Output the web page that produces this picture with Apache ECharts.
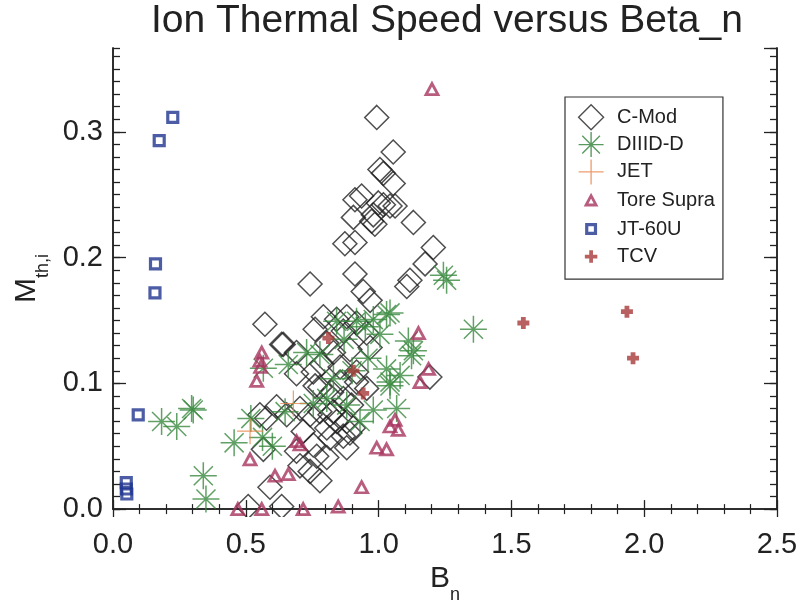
<!DOCTYPE html>
<html>
<head>
<meta charset="utf-8">
<script src="https://cdn.jsdelivr.net/npm/echarts@6/dist/echarts.min.js"></script>
<style>
html,body{margin:0;padding:0;background:#fff}
#chart{width:802px;height:609px}
</style>
</head>
<body>
<div id="chart"></div>
<script>
// values: [B_n, M_th,i]
var cmod = [
  [0.993,0.3115],[1.055,0.284],[1.005,0.270],[1.018,0.267],[1.055,0.259],[0.911,0.246],[0.936,0.249],
  [0.999,0.2435],[1.018,0.242],[1.043,0.241],[1.062,0.241],[0.980,0.234],[0.905,0.232],[0.974,0.229],
  [0.986,0.2265],[1.131,0.228],[0.873,0.211],[0.911,0.212],[1.206,0.208],[1.175,0.195],[0.911,0.187],
  [1.118,0.182],[1.106,0.177],[0.942,0.173],[0.968,0.166],[0.742,0.179],[0.572,0.147],[0.792,0.153],
  [0.842,0.151],[0.880,0.153],[0.917,0.148],[0.761,0.143],[0.867,0.1416],[0.955,0.140],[0.641,0.131],
  [0.691,0.1245],[0.805,0.132],[0.830,0.1245],[0.892,0.127],[0.968,0.1285],[1.193,0.105],[0.691,0.1076],
  [0.754,0.109],[0.779,0.097],[0.855,0.101],[0.917,0.101],[0.955,0.096],[0.616,0.0814],[0.578,0.0723],
  [0.654,0.075],[0.704,0.080],[0.742,0.075],[0.779,0.0775],[0.817,0.075],[0.842,0.0697],[0.880,0.0697],
  [0.905,0.0645],[0.805,0.0645],[0.716,0.0618],[0.566,0.0475],[0.691,0.046],[0.754,0.051],[0.767,0.042],
  [0.817,0.0566],[0.867,0.058],[0.880,0.0488],[0.805,0.041],[0.704,0.0344],[0.742,0.030],[0.779,0.0226],
  [0.591,0.0174],[0.509,0.002],[0.635,0.002],[0.635,0.131],[0.553,0.075],[0.786,0.1155],[0.823,0.093],
  [0.867,0.088],[0.898,0.0827],[0.917,0.109],[0.761,0.098],[0.855,0.113],[0.830,0.0775],[0.892,0.0605]
];
var diiid = [
  [0.183,0.0697],[0.240,0.0657],[0.302,0.0788],[0.296,0.080],[0.340,0.0265],[0.350,0.008],[0.456,0.0527],
  [0.519,0.072],[0.563,0.057],[0.600,0.050],[0.566,0.112],[0.660,0.115],[0.648,0.0775],[0.729,0.1245],
  [0.779,0.123],[0.754,0.084],[0.805,0.088],[0.830,0.1037],[0.842,0.1494],[0.917,0.1494],[0.980,0.1507],
  [1.030,0.1547],[1.005,0.139],[1.112,0.1337],[1.131,0.126],[1.030,0.1115],[1.081,0.1063],[1.043,0.098],
  [0.980,0.0788],[1.068,0.080],[0.930,0.0697],[0.880,0.0827],[1.256,0.182],[1.244,0.186],[1.357,0.143],
  [1.043,0.156],[1.124,0.122],[1.043,0.101],[0.950,0.145],[0.870,0.135],[0.960,0.120],[0.900,0.110]
];
var jet = [[0.679,0.084],[0.516,0.062]];
var toreSupra = [
  [0.560,0.1245],[0.553,0.118],[0.556,0.113],[0.541,0.102],[1.150,0.140],[1.188,0.1115],[1.156,0.101],
  [1.062,0.071],[1.043,0.0657],[1.074,0.063],[0.993,0.0488],[1.030,0.0475],[0.936,0.0174],[0.516,0.0396],
  [0.610,0.0265],[0.660,0.0278],[0.691,0.054],[0.704,0.0514],[0.848,0.002],[1.201,0.334],[0.470,0.0],
  [0.560,0.0],[0.716,0.0]
];
var jt60u = [[0.225,0.3115],[0.174,0.293],[0.160,0.195],[0.158,0.172],[0.095,0.075],[0.050,0.021],[0.050,0.016],[0.052,0.012]];
var tcv = [[0.811,0.136],[0.905,0.110],[0.942,0.092],[1.545,0.148],[1.935,0.157],[1.958,0.120]];

var xTicks = [0, 2.5, 0.5];      // min, max, major step
var yTicks = [0, 0.3667, 0.1];   // min, max, major step

var FONT = 'Liberation Sans';
var STAR = 'path://M0,10L20,10M10,0L10,20M2.93,2.93L17.07,17.07M17.07,2.93L2.93,17.07';
var PLUS = 'path://M0,10L20,10M10,0L10,20';
var CROSS = 'path://M3,0L7,0L7,3L10,3L10,7L7,7L7,10L3,10L3,7L0,7L0,3L3,3Z';

var mychart = echarts.init(document.getElementById('chart'));

function xAx(pos, lab) {
  return {
    type: 'value', position: pos, min: xTicks[0], max: xTicks[1], interval: xTicks[2],
    axisLine: {show: true, lineStyle: {color: '#222', width: 1.5}},
    axisTick: {inside: true, length: 9, lineStyle: {color: '#222', width: 1.3}},
    minorTick: {show: true, splitNumber: 5, length: 5, lineStyle: {color: '#222', width: 1.2}},
    splitLine: {show: false},
    axisLabel: {show: lab, fontFamily: FONT, fontSize: 29, color: '#222', margin: 21,
      formatter: function (v) { return v.toFixed(1); }},
    name: lab ? '{b|B}{s|n}' : '',
    nameLocation: 'middle', nameGap: 46,
    nameTextStyle: {fontFamily: FONT, color: '#222',
      rich: {b: {fontSize: 30, lineHeight: 40, verticalAlign: 'top', fontFamily: FONT, color: '#222'},
             s: {fontSize: 18, lineHeight: 18, verticalAlign: 'bottom', fontFamily: FONT, color: '#222'}}}
  };
}
function yAx(pos, lab, step, len) {
  return {
    type: 'value', position: pos, min: yTicks[0], max: yTicks[1], interval: step,
    axisLine: {show: true, lineStyle: {color: '#222', width: 1.5}},
    axisTick: {inside: true, length: len, lineStyle: {color: '#222', width: 1.3}},
    splitLine: {show: false},
    axisLabel: {show: lab, showMaxLabel: false, fontFamily: FONT, fontSize: 29, color: '#222', margin: 10,
      formatter: function (v) { return v.toFixed(1); }},
    name: lab ? '{m|M}{s|th,i}' : '',
    nameLocation: 'middle', nameGap: 58, nameRotate: 90,
    nameTextStyle: {fontFamily: FONT, color: '#222',
      rich: {m: {fontSize: 30, lineHeight: 40, verticalAlign: 'top', fontFamily: FONT, color: '#222'},
             s: {fontSize: 18, lineHeight: 18, verticalAlign: 'bottom', fontFamily: FONT, color: '#222'}}}
  };
}

var option = {
  animation: false,
  backgroundColor: '#fff',
  title: {
    text: 'Ion Thermal Speed versus Beta_n',
    left: 151, top: 2, padding: 0,
    textStyle: {fontFamily: FONT, fontSize: 39, fontWeight: 'normal', color: '#222'}
  },
  grid: {left: 113, right: 25, top: 48, bottom: 94},
  xAxis: [xAx('bottom', true), xAx('top', false)],
  yAxis: [
    yAx('left', true, yTicks[2], 13),
    yAx('left', false, 0.01, 7),
    yAx('right', false, yTicks[2], 13),
    yAx('right', false, 0.01, 7)
  ],
  legend: {
    orient: 'vertical', left: 565, top: 97,
    padding: [7, 8, 10, 12], itemGap: 1, itemWidth: 32, itemHeight: 25,
    borderColor: '#333', borderWidth: 1.2, backgroundColor: '#fff',
    textStyle: {fontFamily: FONT, fontSize: 20, color: '#222', padding: [0, 0, 0, 5]},
    data: [
      {name: 'C-Mod', icon: 'path://M10,0L20,10L10,20L0,10Z', itemStyle: {color: 'rgba(0,0,0,0)', borderColor: '#222', borderWidth: 1.4}},
      {name: 'DIIID-D', icon: STAR, itemStyle: {color: '#2f7f38', borderColor: '#2f7f38', borderWidth: 1.4}},
      {name: 'JET', icon: PLUS, itemStyle: {color: '#e8844a', borderColor: '#e8844a', borderWidth: 1.3}},
      {name: 'Tore Supra', icon: 'path://M0,0M40,40M12,28L20,13L28,28Z', itemStyle: {color: 'rgba(0,0,0,0)', borderColor: '#a8345f', borderWidth: 2.8}},
      {name: 'JT-60U', icon: 'path://M0,0M40,40M13,13L27,13L27,27L13,27Z', itemStyle: {color: 'rgba(0,0,0,0)', borderColor: '#1f3590', borderWidth: 3.2}},
      {name: 'TCV', icon: 'path://M0,0M40,40M17,10L23,10L23,17L30,17L30,23L23,23L23,30L17,30L17,23L10,23L10,17L17,17Z', itemStyle: {color: '#a83a3a', borderColor: '#a83a3a', borderWidth: 0}}
    ]
  },
  series: [
    {name: 'C-Mod', type: 'scatter', data: cmod, symbol: 'diamond', symbolSize: 24,
      itemStyle: {color: 'rgba(0,0,0,0)', borderColor: '#222', borderWidth: 1.5}},
    {name: 'DIIID-D', type: 'scatter', data: diiid, symbol: STAR, symbolSize: 27,
      itemStyle: {color: '#2f7f38', borderColor: '#3a8a40', borderWidth: 1.5}},
    {name: 'JET', type: 'scatter', data: jet, symbol: PLUS, symbolSize: 26,
      itemStyle: {color: '#e8844a', borderColor: '#e8844a', borderWidth: 1.2}},
    {name: 'Tore Supra', type: 'scatter', data: toreSupra, symbol: 'triangle', symbolSize: [12, 11],
      itemStyle: {color: 'rgba(0,0,0,0)', borderColor: '#a8345f', borderWidth: 2.8}},
    {name: 'JT-60U', type: 'scatter', data: jt60u, symbol: 'rect', symbolSize: 10,
      itemStyle: {color: 'rgba(0,0,0,0)', borderColor: '#1f3590', borderWidth: 3.2}},
    {name: 'TCV', type: 'scatter', data: tcv, symbol: CROSS, symbolSize: 12,
      itemStyle: {color: '#a83a3a', borderWidth: 0}}
  ],
  // white strip under the bottom axis so markers sitting on 0 look clipped
  graphic: [{type: 'rect', shape: {x: 100, y: 517, width: 690, height: 14}, style: {fill: '#fff'}, z: 100}]
};
mychart.setOption(option);
</script>
</body>
</html>
